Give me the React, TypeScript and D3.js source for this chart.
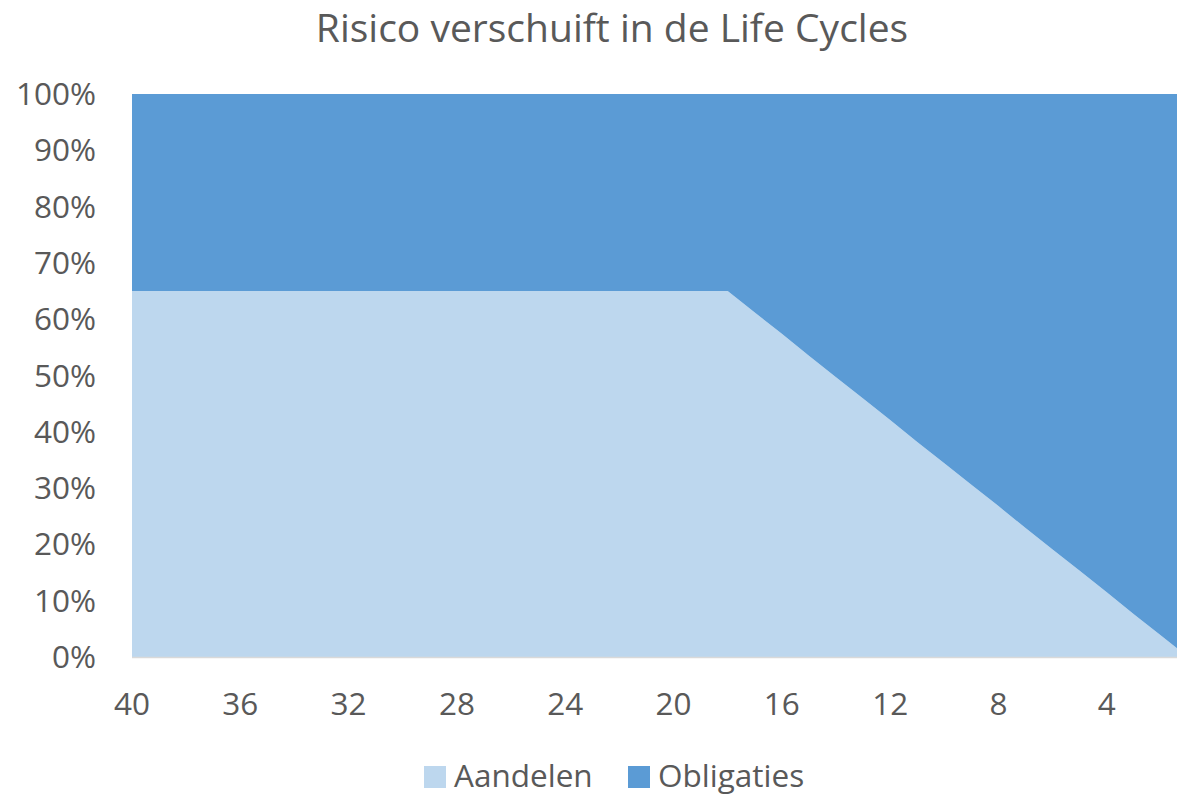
import { useEffect, useRef } from "react";
import * as d3 from "d3";

// years to go until retirement (category axis, left to right)
const years = [
  40, 39, 38, 37, 36, 35, 34, 33, 32, 31, 30, 29, 28, 27, 26, 25, 24, 23, 22, 21,
  20, 19, 18, 17, 16, 15, 14, 13, 12, 11, 10, 9, 8, 7, 6, 5, 4, 3, 2, 1,
];
const aandelen = [
  65, 65, 65, 65, 65, 65, 65, 65, 65, 65, 65, 65, 65, 65, 65, 65, 65, 65, 65, 65,
  65, 65, 65, 61.2, 57.4, 53.5, 49.7, 45.9, 42.1, 38.2, 34.4, 30.6, 26.8, 22.9,
  19.1, 15.3, 11.5, 7.6, 3.8, 0,
];
const obligaties = [
  35, 35, 35, 35, 35, 35, 35, 35, 35, 35, 35, 35, 35, 35, 35, 35, 35, 35, 35, 35,
  35, 35, 35, 38.8, 42.6, 46.5, 50.3, 54.1, 57.9, 61.8, 65.6, 69.4, 73.2, 77.1,
  80.9, 84.7, 88.5, 92.4, 96.2, 100,
];
const xTicks = [40, 36, 32, 28, 24, 20, 16, 12, 8, 4];
const yTicks = [0, 10, 20, 30, 40, 50, 60, 70, 80, 90, 100];
const seriesNames = ["Aandelen", "Obligaties"];
const colors = ["#BDD7EE", "#5B9BD5"];

export default function App() {
  const ref = useRef<HTMLDivElement>(null);

  useEffect(() => {
    document.body.style.margin = "0";
    const root = d3.select(ref.current);
    root.selectAll("*").remove();

    const width = 1177;
    const height = 797;
    const font = "'Open Sans', sans-serif";
    const textColor = "#595959";

    const svg = root
      .append("svg")
      .attr("width", width)
      .attr("height", height)
      .style("display", "block")
      .style("font-family", font);

    const x = d3.scaleLinear().domain([40, 1]).range([132, 1188]);
    const y = d3.scaleLinear().domain([0, 100]).range([657, 94]);

    const rows = years.map((yr, i) => ({
      year: yr,
      Aandelen: aandelen[i],
      Obligaties: obligaties[i],
    }));
    const stacked = d3.stack<any>().keys(seriesNames)(rows);

    const area = d3
      .area<any>()
      .x((d) => x(d.data.year))
      .y0((d) => y(d[0]))
      .y1((d) => y(d[1]));

    svg
      .selectAll("path.area")
      .data(stacked)
      .enter()
      .append("path")
      .attr("class", "area")
      .attr("d", area)
      .attr("fill", (_d, i) => colors[i]);

    // baseline
    svg
      .append("line")
      .attr("x1", 132)
      .attr("x2", width)
      .attr("y1", y(0) + 0.5)
      .attr("y2", y(0) + 0.5)
      .attr("stroke", "#d9d9d9")
      .attr("stroke-width", 1.5);

    svg
      .selectAll("text.ytick")
      .data(yTicks)
      .enter()
      .append("text")
      .attr("class", "ytick")
      .attr("x", 96)
      .attr("y", (d) => y(d) + 11)
      .attr("text-anchor", "end")
      .attr("font-size", 31.5)
      .attr("fill", textColor)
      .text((d) => d + "%");

    svg
      .selectAll("text.xtick")
      .data(xTicks)
      .enter()
      .append("text")
      .attr("class", "xtick")
      .attr("x", (d) => x(d))
      .attr("y", 715)
      .attr("text-anchor", "middle")
      .attr("font-size", 31.5)
      .attr("fill", textColor)
      .text((d) => d);

    svg
      .append("text")
      .attr("x", 612)
      .attr("y", 42)
      .attr("text-anchor", "middle")
      .attr("font-size", 39)
      .attr("fill", textColor)
      .text("Risico verschuift in de Life Cycles");

    const legendX = [424, 628];
    const legend = svg
      .selectAll("g.legend")
      .data(seriesNames)
      .enter()
      .append("g")
      .attr("class", "legend")
      .attr("transform", (_d, i) => `translate(${legendX[i]},766)`);
    legend
      .append("rect")
      .attr("width", 22)
      .attr("height", 22)
      .attr("fill", (_d, i) => colors[i]);
    legend
      .append("text")
      .attr("x", 30)
      .attr("y", 21)
      .attr("font-size", 31.5)
      .attr("fill", textColor)
      .text((d) => d);
  }, []);

  return <div ref={ref}></div>;
}
